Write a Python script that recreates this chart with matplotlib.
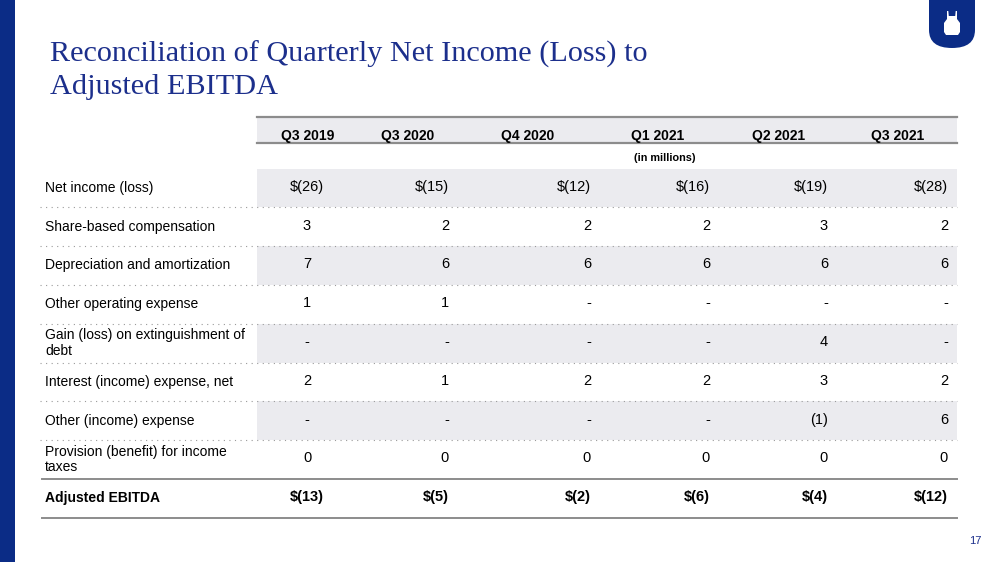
import matplotlib
matplotlib.use('Agg')
import matplotlib.pyplot as plt
from matplotlib.patches import Rectangle, PathPatch, Polygon
from matplotlib.path import Path

# table content
title_lines = ['Reconciliation of Quarterly Net Income (Loss) to', 'Adjusted EBITDA']
quarters = ['Q3 2019', 'Q3 2020', 'Q4 2020', 'Q1 2021', 'Q2 2021', 'Q3 2021']
row_labels = ['Net income (loss)', 'Share-based compensation', 'Depreciation and amortization',
              'Other operating expense', 'Gain (loss) on extinguishment of\ndebt',
              'Interest (income) expense, net', 'Other (income) expense',
              'Provision (benefit) for income\ntaxes', 'Adjusted EBITDA']
net_income = [-26, -15, -12, -16, -19, -28]
share_based = [3, 2, 2, 2, 3, 2]
depreciation = [7, 6, 6, 6, 6, 6]
other_operating = [1, 1, None, None, None, None]
gain_loss_debt = [None, None, None, None, 4, None]
interest = [2, 1, 2, 2, 3, 2]
other_income = [None, None, None, None, -1, 6]
provision = [0, 0, 0, 0, 0, 0]
adjusted_ebitda = [-13, -5, -2, -6, -4, -12]
unit_note = '(in millions)'
page_no = '17'

rows = [net_income, share_based, depreciation, other_operating, gain_loss_debt,
        interest, other_income, provision, adjusted_ebitda]
dollar_rows = [0, 8]

NAVY = '#0b2c86'
TITLE_C = '#1c2f8c'
SHADE = '#ebebef'
LINE = '#8c8c8c'
SANS = 'Liberation Sans'


def fmt(v, dollar):
    if v is None:
        return '-'
    s = f'({-v})' if v < 0 else str(v)
    return '$' + s if dollar else s


fig = plt.figure(figsize=(10, 5.62), dpi=100)
ax = fig.add_axes([0, 0, 1, 1])
ax.set_xlim(0, 1000)
ax.set_ylim(562, 0)
ax.axis('off')

# left band
ax.add_patch(Rectangle((0, 0), 15, 562, color=NAVY, lw=0))

# shield logo top right
verts = [(929, 0), (929, 30), (929, 48), (952, 48), (975, 48), (975, 30), (975, 0), (929, 0)]
codes = [Path.MOVETO, Path.LINETO, Path.CURVE3, Path.CURVE3, Path.CURVE3, Path.CURVE3,
         Path.LINETO, Path.CLOSEPOLY]
ax.add_patch(PathPatch(Path(verts, codes), color=NAVY, lw=0))
apron = [(947, 11), (948.3, 11), (948.8, 16), (955.2, 16), (955.7, 11), (957, 11), (957, 19),
         (960, 23), (960, 32), (958, 35), (946, 35), (944, 32), (944, 23), (947, 19)]
ax.add_patch(Polygon(apron, closed=True, color='white', lw=0))

# title
for k, line in enumerate(title_lines):
    ax.text(50, 62 + 32 * k, line, fontsize=21.8, family='Liberation Serif', color=TITLE_C,
            va='baseline')

# table geometry
tab_l, tab_r, val_l = 40, 957, 257
top_y, head_y = 117, 143
row0, pitch = 168.5, 38.8
col_anchor = [307, 449, 591, 710, 828, 948]
col_ha = ['center', 'right', 'right', 'right', 'right', 'right']
head_x = [308, 408, 528, 658, 779, 898]

# header
ax.add_patch(Rectangle((val_l, top_y), tab_r - val_l, head_y - top_y, color=SHADE, lw=0))
ax.plot([val_l, tab_r], [top_y, top_y], color=LINE, lw=1.6)
ax.plot([val_l, tab_r], [head_y, head_y], color=LINE, lw=1.6)
for q, x in zip(quarters, head_x):
    ax.text(x, 136, q, ha='center', va='center', fontsize=10, fontweight='bold', family=SANS)
ax.text(665, 158, unit_note, ha='center', va='center', fontsize=7.8, fontweight='bold',
        family=SANS)

# body
for i, (label, vals) in enumerate(zip(row_labels, rows)):
    y0 = row0 + pitch * i
    yc = y0 + pitch / 2
    bold = i == len(rows) - 1
    if i % 2 == 0 and not bold:
        ax.add_patch(Rectangle((val_l, y0), tab_r - val_l, pitch, color=SHADE, lw=0))
    ax.text(45, yc, label, ha='left', va='center', fontsize=10, family=SANS,
            fontweight='bold' if bold else 'normal', linespacing=1.15)
    for v, x, ha in zip(vals, col_anchor, col_ha):
        ax.text(x, yc - 1, fmt(v, i in dollar_rows), ha=ha, va='center', fontsize=10.5,
                family=SANS, fontweight='bold' if bold else 'normal')
    y1 = y0 + pitch
    if i < len(rows) - 2:
        ax.plot([tab_l, tab_r], [y1, y1], color='#9a9a9a', lw=0.8,
                linestyle=(0, (1, 4)), dash_capstyle='butt')
    else:
        ax.plot([tab_l + 2, tab_r], [y1, y1], color=LINE, lw=1.4)

ax.text(975, 541, page_no, ha='center', va='center', fontsize=8, family=SANS, color=TITLE_C)

fig.savefig('out.png', dpi=100, facecolor='white')
